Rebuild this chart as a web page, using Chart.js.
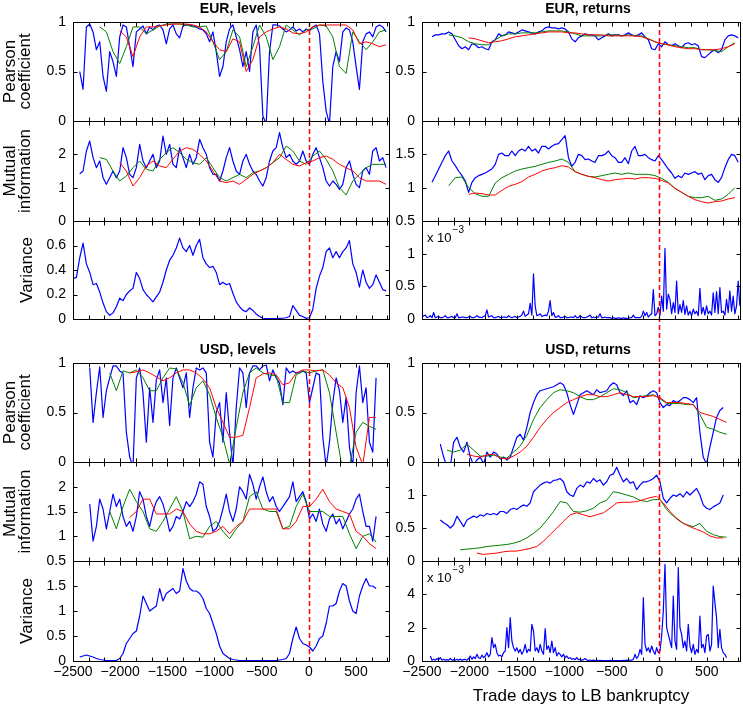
<!DOCTYPE html>
<html>
<head>
<meta charset="utf-8">
<script src="https://cdn.jsdelivr.net/npm/chart.js@4.4.1/dist/chart.umd.min.js"></script>
<style>
  body { margin: 0; background: #fff; }
  #wrap { position: relative; width: 743px; height: 711px; }
  #wrap canvas { position: absolute; left: 0; top: 0; }
</style>
</head>
<body>
<div id="wrap"></div>
<script>
// ---- data: values (x = trade days to LB bankruptcy) ----

// EUR, levels
const eurLevPearsonBlue = [0.50,0.32,0.95,0.98,0.90,0.72,0.80,0.45,0.30,0.70,0.60,0.45,0.85,0.97,0.95,0.75,0.55,0.90,0.93,0.96,0.88,0.95,0.92,0.96,0.97,0.92,0.78,0.93,0.97,0.88,0.84,0.96,0.97,0.97,0.96,0.95,0.93,0.92,0.88,0.80,0.90,0.70,0.45,0.55,0.80,0.93,0.97,0.85,0.72,0.55,0.70,0.50,0.90,0.97,0.75,0.05,-0.03,0.70,0.97,0.97,0.96,0.93,0.90,0.92,0.95,0.91,0.93,0.90,0.93,0.91,0.95,0.97,0.88,0.40,0.10,-0.03,0.55,0.70,0.60,0.90,0.94,0.92,0.80,0.55,0.32,0.80,0.88,0.90,0.85,0.95,0.97,0.95,0.90];
const eurLevPearsonGreen = [0.95,0.90,0.70,0.58,0.75,0.95,0.95,0.88,0.92,0.96,0.98,0.98,0.98,0.97,0.95,0.95,0.96,0.80,0.62,0.70,0.92,0.85,0.55,0.75,0.97,0.85,0.62,0.75,0.97,0.92,0.87,0.92,0.93,0.97,0.96,0.85,0.55,0.48,0.90,0.80,0.72,0.80,0.90,0.92];
const eurLevPearsonRed = [0.91,0.85,0.65,0.85,0.95,0.95,0.96,0.97,0.98,0.98,0.98,0.97,0.95,0.90,0.80,0.72,0.70,0.83,0.80,0.50,0.62,0.85,0.90,0.93,0.95,0.93,0.89,0.88,0.90,0.95,0.97,0.97,0.97,0.97,0.97,0.92,0.78,0.80,0.78,0.75,0.77];
const eurLevMutualBlue = [1.42,1.50,2.10,2.40,1.90,1.60,1.80,1.30,1.10,1.30,1.50,1.30,1.50,2.20,1.90,1.40,1.30,1.60,2.30,1.80,1.60,1.80,2.00,1.60,1.80,2.55,2.00,2.30,1.70,1.60,2.20,1.90,1.60,2.00,1.70,1.90,2.45,2.20,2.00,1.60,1.40,1.40,1.20,1.50,1.90,2.20,1.80,1.50,1.40,1.80,2.00,1.70,1.50,1.40,1.20,1.05,1.30,1.80,2.10,2.20,2.65,2.20,1.90,2.00,1.80,1.70,1.80,2.10,1.80,1.70,2.00,2.20,1.90,1.60,1.20,1.05,1.20,1.10,0.95,1.10,1.60,1.80,1.40,1.10,1.00,1.50,1.60,1.40,2.10,2.20,1.80,1.90,1.60];
const eurLevMutualGreen = [1.90,1.85,1.50,1.20,1.35,1.60,1.80,1.55,1.50,1.85,2.05,2.20,2.05,1.85,1.75,1.70,1.90,1.60,1.30,1.20,1.30,1.40,1.30,1.45,1.50,1.60,1.75,1.90,2.25,2.10,1.80,1.70,1.95,2.10,1.85,1.50,1.00,0.78,1.20,1.40,1.60,1.70,1.70,1.70];
const eurLevMutualRed = [1.75,1.50,1.05,1.30,1.65,1.80,1.65,1.60,1.85,2.10,2.20,2.15,2.00,1.80,1.50,1.20,1.15,1.20,1.10,1.25,1.40,1.50,1.60,1.75,2.00,1.85,1.70,1.65,1.75,1.80,1.90,1.95,1.85,1.70,1.60,1.50,1.30,1.20,1.20,1.20,1.10];
const eurLevVarBlue = [0.33,0.34,0.50,0.62,0.45,0.38,0.28,0.29,0.22,0.13,0.06,0.03,0.05,0.10,0.17,0.15,0.20,0.23,0.25,0.38,0.33,0.24,0.20,0.17,0.14,0.18,0.22,0.30,0.40,0.48,0.52,0.58,0.66,0.58,0.55,0.60,0.52,0.60,0.65,0.50,0.45,0.42,0.43,0.38,0.28,0.30,0.28,0.29,0.21,0.14,0.10,0.07,0.06,0.09,0.07,0.04,0.02,0.006,0.004,0.004,0.003,0.004,0.005,0.006,0.01,0.02,0.11,0.07,0.03,0.02,0.005,0.01,0.08,0.25,0.35,0.42,0.55,0.58,0.50,0.55,0.50,0.55,0.58,0.64,0.45,0.38,0.26,0.40,0.30,0.25,0.28,0.36,0.30,0.24,0.23];

// EUR, returns
const eurRetPearsonBlue = [0.85,0.87,0.87,0.88,0.88,0.90,0.88,0.82,0.76,0.73,0.75,0.72,0.78,0.77,0.74,0.75,0.73,0.72,0.80,0.82,0.88,0.86,0.87,0.90,0.89,0.88,0.90,0.92,0.91,0.90,0.89,0.88,0.90,0.91,0.94,0.95,0.94,0.94,0.93,0.94,0.93,0.90,0.83,0.80,0.84,0.86,0.88,0.87,0.87,0.86,0.82,0.84,0.86,0.88,0.86,0.87,0.87,0.86,0.87,0.89,0.87,0.86,0.87,0.89,0.85,0.82,0.73,0.72,0.78,0.75,0.80,0.77,0.76,0.78,0.76,0.74,0.78,0.79,0.77,0.78,0.76,0.65,0.64,0.67,0.70,0.72,0.69,0.72,0.82,0.86,0.87,0.86,0.84];
const eurRetPearsonGreen = [0.87,0.86,0.84,0.80,0.78,0.77,0.77,0.82,0.86,0.88,0.88,0.89,0.89,0.89,0.90,0.91,0.91,0.91,0.90,0.88,0.86,0.86,0.86,0.86,0.87,0.87,0.86,0.87,0.86,0.86,0.83,0.80,0.78,0.77,0.76,0.75,0.74,0.74,0.72,0.72,0.71,0.70,0.75,0.79];
const eurRetPearsonRed = [0.84,0.83,0.81,0.79,0.80,0.81,0.83,0.85,0.86,0.87,0.88,0.89,0.90,0.90,0.90,0.89,0.89,0.88,0.87,0.87,0.87,0.86,0.86,0.86,0.86,0.86,0.85,0.83,0.80,0.78,0.77,0.75,0.74,0.73,0.73,0.72,0.72,0.72,0.73,0.75,0.78];
const eurRetMutualBlue = [1.08,1.18,1.28,1.38,1.48,1.55,1.40,1.33,1.25,1.18,1.10,0.93,1.08,1.15,1.18,1.20,1.22,1.25,1.28,1.35,1.50,1.52,1.48,1.48,1.55,1.48,1.55,1.58,1.55,1.62,1.55,1.58,1.52,1.62,1.62,1.58,1.62,1.65,1.66,1.72,1.78,1.45,1.32,1.38,1.50,1.48,1.42,1.43,1.40,1.38,1.48,1.48,1.50,1.55,1.48,1.45,1.38,1.38,1.45,1.36,1.55,1.62,1.48,1.48,1.50,1.45,1.42,1.40,1.48,1.42,1.35,1.28,1.22,1.14,1.18,1.15,1.22,1.20,1.22,1.24,1.20,1.22,1.12,1.18,1.20,1.12,1.08,1.15,1.30,1.42,1.50,1.48,1.38];
const eurRetMutualGreen = [1.03,1.15,1.16,1.00,0.91,0.87,0.87,1.07,1.15,1.20,1.25,1.28,1.30,1.32,1.35,1.38,1.40,1.43,1.38,1.24,1.20,1.17,1.16,1.18,1.20,1.22,1.20,1.22,1.20,1.20,1.20,1.18,1.14,1.08,0.99,0.93,0.87,0.85,0.85,0.87,0.81,0.83,0.90,1.00];
const eurRetMutualRed = [0.90,0.92,0.91,0.89,0.89,0.96,1.02,1.05,1.09,1.16,1.20,1.25,1.28,1.30,1.33,1.31,1.24,1.20,1.17,1.15,1.12,1.10,1.12,1.13,1.14,1.13,1.15,1.15,1.14,1.11,1.07,0.99,0.93,0.87,0.82,0.79,0.77,0.79,0.80,0.83,0.85];
// variance of returns, in units of 1e-3
const eurRetVarBlue = [0.03,0.05,0.06,0.02,0.03,0.05,0.02,0.10,0.02,0.03,0.04,0.02,0.02,0.03,0.05,0.02,0.02,0.03,0.04,0.02,0.02,0.08,0.02,0.02,0.03,0.03,0.02,0.02,0.03,0.04,0.02,0.02,0.03,0.05,0.03,0.03,0.02,0.04,0.05,0.14,0.03,0.04,0.05,0.02,0.02,0.03,0.04,0.02,0.02,0.03,0.03,0.02,0.05,0.03,0.02,0.03,0.04,0.02,0.03,0.04,0.06,0.12,0.04,0.06,0.08,0.24,0.06,0.69,0.20,0.05,0.06,0.08,0.04,0.05,0.06,0.05,0.12,0.28,0.05,0.10,0.03,0.03,0.05,0.02,0.02,0.03,0.04,0.02,0.02,0.03,0.03,0.02,0.05,0.02,0.02,0.05,0.03,0.02,0.02,0.03,0.04,0.06,0.02,0.03,0.02,0.03,0.03,0.08,0.02,0.02,0.03,0.02,0.02,0.02,0.01,0.02,0.01,0.01,0.02,0.01,0.01,0.02,0.01,0.01,0.01,0.02,0.02,0.06,0.02,0.02,0.02,0.02,0.04,0.12,0.05,0.10,0.03,0.06,0.08,0.45,0.05,0.08,0.18,0.05,0.35,0.12,1.08,0.15,0.38,0.30,0.08,0.25,0.10,0.58,0.08,0.22,0.10,0.28,0.07,0.20,0.06,0.12,0.05,0.15,0.08,0.12,0.05,0.47,0.08,0.18,0.06,0.20,0.08,0.12,0.06,0.40,0.10,0.42,0.08,0.48,0.10,0.12,0.06,0.30,0.10,0.43,0.12,0.35,0.08,0.20,0.58,0.20];

// USD, levels
const usdLevPearsonBlue = [0.95,0.40,0.70,0.96,0.45,0.72,0.85,0.97,0.97,0.92,0.90,0.30,0.05,-0.05,0.85,0.95,0.70,0.20,0.75,0.40,0.83,0.93,0.60,0.85,0.37,0.85,0.95,0.85,0.75,0.90,0.45,0.75,0.95,0.93,0.95,0.90,0.20,0.05,0.50,0.60,0.20,0.70,0.30,-0.05,0.55,0.95,0.90,0.55,0.90,0.97,0.97,0.93,0.97,0.98,0.82,0.93,0.85,0.80,0.58,0.95,0.90,0.92,0.90,0.90,0.92,0.90,0.60,0.75,0.90,0.88,0.25,-0.05,0.20,0.60,0.85,0.72,0.40,0.65,0.15,-0.05,0.70,0.97,0.60,0.75,0.20,0.10,0.85];
const usdLevPearsonGreen = [0.90,0.72,0.92,0.90,0.93,0.85,0.72,0.72,0.85,0.95,0.94,0.80,0.57,0.75,0.82,0.68,0.45,0.25,-0.02,0.35,0.70,0.90,0.95,0.90,0.88,0.87,0.60,0.60,0.88,0.92,0.90,0.92,0.93,0.70,0.30,-0.10,-0.05,0.30,0.40,0.36,0.33];
const usdLevPearsonRed = [0.90,0.91,0.93,0.90,0.86,0.82,0.85,0.90,0.93,0.93,0.90,0.84,0.75,0.55,0.40,0.25,0.25,0.27,0.55,0.85,0.89,0.90,0.88,0.78,0.80,0.90,0.93,0.93,0.92,0.93,0.88,0.80,0.75,0.55,0.15,-0.03,0.45,0.45];
const usdLevMutualBlue = [1.65,0.90,1.20,1.75,1.55,1.15,1.50,1.85,1.60,1.75,1.40,1.20,1.30,1.10,1.40,1.90,1.75,1.40,1.20,1.50,1.70,1.80,1.65,1.40,1.10,1.20,1.40,1.35,1.50,1.70,1.60,1.70,1.85,2.10,2.05,1.60,1.40,1.10,1.15,1.30,1.55,1.85,1.50,1.30,1.55,2.00,1.90,1.75,2.25,2.05,1.75,2.00,2.20,1.90,1.70,1.80,1.60,1.50,1.60,1.70,1.80,2.10,1.70,1.80,1.90,1.70,1.35,1.45,1.30,1.55,1.25,1.10,1.35,1.45,1.25,1.35,1.15,1.30,1.45,1.55,1.75,1.85,1.50,1.20,1.20,0.90,1.40];
const usdLevMutualGreen = [1.50,1.15,1.60,1.95,1.70,1.50,1.15,1.10,1.30,1.55,1.80,1.50,0.95,1.00,0.98,1.20,1.30,1.10,0.95,1.15,1.30,1.80,1.90,1.55,1.50,1.50,1.15,1.20,1.60,1.85,1.50,1.50,1.50,1.40,1.40,1.40,1.05,0.75,1.00,1.05,0.88];
const usdLevMutualRed = [1.38,1.50,1.75,1.75,1.45,1.45,1.45,1.55,1.50,1.25,1.10,1.05,1.05,1.10,1.20,1.05,1.20,1.30,1.55,1.55,1.55,1.55,1.55,1.15,1.15,1.30,1.60,1.60,1.75,1.95,1.70,1.55,1.50,1.45,1.10,1.00,0.85,0.75];
const usdLevVarBlue = [0.08,0.10,0.12,0.10,0.08,0.05,0.03,0.02,0.01,0.01,0.01,0.01,0.05,0.15,0.35,0.45,0.55,0.60,0.90,1.30,1.15,1.00,1.05,1.10,1.45,1.20,1.35,1.40,1.45,1.35,1.40,1.85,1.60,1.45,1.40,1.40,1.35,1.25,1.05,0.95,0.75,0.55,0.30,0.15,0.10,0.05,0.03,0.02,0.01,0.01,0.01,0.01,0.01,0.01,0.01,0.01,0.01,0.01,0.01,0.01,0.02,0.03,0.05,0.15,0.45,0.68,0.45,0.35,0.32,0.28,0.20,0.30,0.45,0.50,0.75,1.10,1.10,1.15,1.40,1.55,1.50,1.20,1.00,0.95,1.30,1.50,1.65,1.50,1.50,1.45];

// USD, returns
const usdRetPearsonBlue = [0.18,0.05,-0.05,-0.05,0.20,0.25,0.15,0.10,0.20,0.05,-0.03,0.02,0.05,-0.02,0.10,0.05,0.10,0.08,0.03,0.05,0.02,0.05,0.15,0.25,0.28,0.22,0.35,0.50,0.60,0.68,0.72,0.73,0.74,0.75,0.76,0.78,0.80,0.78,0.70,0.58,0.48,0.58,0.68,0.70,0.72,0.70,0.68,0.73,0.70,0.71,0.72,0.77,0.80,0.78,0.70,0.67,0.72,0.60,0.62,0.58,0.67,0.65,0.67,0.70,0.72,0.70,0.60,0.55,0.58,0.57,0.62,0.60,0.62,0.65,0.65,0.63,0.60,0.65,0.30,0.05,-0.02,0.15,0.30,0.45,0.52,0.55];
const usdRetPearsonGreen = [0.12,0.10,0.12,0.18,0.12,0.06,0.06,0.07,0.05,0.04,0.10,0.16,0.27,0.43,0.55,0.63,0.70,0.73,0.72,0.70,0.66,0.63,0.63,0.66,0.70,0.74,0.73,0.70,0.65,0.66,0.67,0.68,0.64,0.59,0.59,0.59,0.58,0.58,0.48,0.35,0.33,0.30,0.28];
const usdRetPearsonRed = [0.08,0.06,0.05,0.07,0.08,0.04,0.03,0.06,0.10,0.16,0.25,0.35,0.43,0.50,0.55,0.60,0.63,0.66,0.68,0.68,0.66,0.66,0.68,0.70,0.68,0.66,0.66,0.66,0.67,0.65,0.60,0.60,0.60,0.59,0.58,0.50,0.48,0.46,0.43,0.40];
const usdRetMutualBlue = [0.62,0.58,0.55,0.50,0.55,0.68,0.60,0.52,0.62,0.65,0.68,0.66,0.70,0.68,0.72,0.70,0.72,0.70,0.75,0.75,0.72,0.78,0.80,0.78,0.82,0.85,0.83,0.88,1.05,1.10,1.15,1.18,1.20,1.18,1.22,1.23,1.25,1.20,1.05,1.00,0.98,1.10,1.15,1.12,1.20,1.18,1.25,1.20,1.23,1.15,1.20,1.30,1.32,1.42,1.30,1.20,1.25,1.18,1.20,1.08,1.15,1.20,1.20,1.22,1.25,1.30,1.20,0.95,0.88,0.95,1.00,0.98,1.02,0.97,1.05,1.00,1.05,1.10,1.00,0.85,0.80,0.78,0.82,0.85,0.88,1.00];
const usdRetMutualGreen = [0.17,0.18,0.19,0.20,0.22,0.23,0.24,0.25,0.27,0.30,0.35,0.42,0.50,0.62,0.75,0.90,0.88,0.75,0.74,0.76,0.80,0.88,0.92,1.05,1.03,1.00,0.97,0.92,0.90,0.93,0.93,0.78,0.68,0.60,0.55,0.52,0.57,0.45,0.40,0.37,0.36];
const usdRetMutualRed = [0.12,0.10,0.11,0.12,0.14,0.15,0.15,0.17,0.19,0.22,0.30,0.40,0.50,0.60,0.70,0.73,0.70,0.67,0.70,0.73,0.80,0.88,0.89,0.89,0.90,0.93,0.96,0.98,0.88,0.75,0.65,0.57,0.52,0.48,0.44,0.38,0.35,0.35];
// variance of returns, in units of 1e-3
const usdRetVarBlue = [0.30,0.05,0.10,0.05,0.15,0.08,0.20,0.05,0.10,0.05,0.08,0.05,0.15,0.05,0.08,0.05,0.10,0.04,0.12,0.05,0.08,0.10,0.05,0.15,0.30,0.10,0.25,0.15,0.40,0.20,0.15,0.35,0.20,0.30,0.50,0.25,0.40,1.40,0.80,1.00,0.50,0.30,0.35,0.25,0.50,0.60,2.00,0.80,2.60,1.20,0.80,0.60,0.80,0.50,0.70,0.40,0.60,1.00,0.50,0.70,0.60,2.20,1.80,0.60,0.80,0.50,1.00,0.60,0.40,1.95,0.70,0.90,0.50,1.20,0.50,0.80,0.30,0.50,0.40,0.25,0.40,0.20,0.30,0.15,0.20,0.10,0.15,0.08,0.20,0.08,0.10,0.05,0.08,0.15,0.05,0.04,0.06,0.03,0.05,0.03,0.04,0.03,0.04,0.02,0.03,0.02,0.03,0.02,0.04,0.02,0.03,0.02,0.03,0.02,0.03,0.02,0.04,0.03,0.05,0.03,0.06,0.04,0.10,0.40,0.15,0.30,0.70,0.40,3.80,1.00,0.60,0.80,0.50,0.90,0.60,0.40,0.80,0.50,0.60,1.50,3.00,5.80,2.00,1.60,1.20,0.80,3.90,1.20,0.70,5.60,2.00,1.60,0.80,1.20,0.60,2.20,0.90,0.50,1.00,0.40,0.70,0.50,2.70,0.80,1.00,0.50,1.50,1.60,0.60,1.00,4.50,3.50,2.60,0.80,1.90,0.80,0.50,0.40,0.20];

// sampling of the series above (days between samples)
const LEFT_STEP = 35.3;
const RIGHT_STEP = 35.06;

// x axis
const X_MIN = -2500, X_MAX = 850;
const xTickLabels = [-2500, -2000, -1500, -1000, -500, 0, 500];
const xMinorTicks = [];
for (let k = 0; k <= 20; k++) xMinorTicks.push(-2500 + k * 500 / 3);

// ---- layout & style ----
const PAGE_W = 743, PAGE_H = 711;
const FONT = '"Liberation Sans", Arial, Helvetica, sans-serif';
const BLUE = '#0000ff', GREEN = '#007f00', RED = '#ff0000';
const TICK_LEN = 4;
const COLS = [{left: 73, right: 389, axisW: 73}, {left: 422, right: 740, axisW: 30}];
const ROWS = [
  {top: 22, bottom: 121}, {top: 121, bottom: 221}, {top: 221, bottom: 319},
  {top: 363, bottom: 462}, {top: 462, bottom: 561}, {top: 561, bottom: 661}
];
const GAP = ROWS[3].top - ROWS[2].bottom;

const panels = [
  {col: 0, row: 0, title: 'EUR, levels', yLabel: ['Pearson', 'coefficient'], yMin: 0, yMax: 1, yTicks: [0, 0.5, 1],
   series: [[eurLevPearsonBlue, -2428.6, LEFT_STEP, BLUE], [eurLevPearsonGreen, -2216.8, 2 * LEFT_STEP, GREEN], [eurLevPearsonRed, -2005, 2 * LEFT_STEP, RED]]},
  {col: 0, row: 1, yLabel: ['Mutual', 'information'], yMin: 0, yMax: 3, yTicks: [0, 1, 2],
   series: [[eurLevMutualBlue, -2428.6, LEFT_STEP, BLUE], [eurLevMutualGreen, -2216.8, 2 * LEFT_STEP, GREEN], [eurLevMutualRed, -2005, 2 * LEFT_STEP, RED]]},
  {col: 0, row: 2, yLabel: 'Variance', yMin: 0, yMax: 0.8, yTicks: [0, 0.2, 0.4, 0.6], dashExtend: GAP,
   series: [[eurLevVarBlue, -2499.2, LEFT_STEP, BLUE]]},
  {col: 1, row: 0, title: 'EUR, returns', yMin: 0, yMax: 1, yTicks: [0, 0.5, 1],
   series: [[eurRetPearsonBlue, -2394.6, RIGHT_STEP, BLUE], [eurRetPearsonGreen, -2219.3, 2 * RIGHT_STEP, GREEN], [eurRetPearsonRed, -2009, 2 * RIGHT_STEP, RED]]},
  {col: 1, row: 1, yMin: 0.5, yMax: 2, yTicks: [0.5, 1, 1.5],
   series: [[eurRetMutualBlue, -2394.6, RIGHT_STEP, BLUE], [eurRetMutualGreen, -2219.3, 2 * RIGHT_STEP, GREEN], [eurRetMutualRed, -2009, 2 * RIGHT_STEP, RED]]},
  {col: 1, row: 2, yMin: 0, yMax: 1.5, yTicks: [0, 0.5, 1], exponent: true, dashExtend: GAP,
   series: [[eurRetVarBlue, -2499.8, RIGHT_STEP / 2, BLUE]]},
  {col: 0, row: 3, title: 'USD, levels', yLabel: ['Pearson', 'coefficient'], yMin: 0, yMax: 1, yTicks: [0, 0.5, 1],
   series: [[usdLevPearsonBlue, -2322.7, LEFT_STEP, BLUE], [usdLevPearsonGreen, -2110.9, 2 * LEFT_STEP, GREEN], [usdLevPearsonRed, -1899.1, 2 * LEFT_STEP, RED]]},
  {col: 0, row: 4, yLabel: ['Mutual', 'information'], yMin: 0.5, yMax: 2.5, yTicks: [0.5, 1, 1.5, 2],
   series: [[usdLevMutualBlue, -2322.7, LEFT_STEP, BLUE], [usdLevMutualGreen, -2110.9, 2 * LEFT_STEP, GREEN], [usdLevMutualRed, -1899.1, 2 * LEFT_STEP, RED]]},
  {col: 0, row: 5, yLabel: 'Variance', yMin: 0, yMax: 2, yTicks: [0, 0.5, 1, 1.5],
   series: [[usdLevVarBlue, -2428.6, LEFT_STEP, BLUE]]},
  {col: 1, row: 3, title: 'USD, returns', yMin: 0, yMax: 1, yTicks: [0, 0.5, 1],
   series: [[usdRetPearsonBlue, -2307, RIGHT_STEP, BLUE], [usdRetPearsonGreen, -2236.8, 2 * RIGHT_STEP, GREEN], [usdRetPearsonRed, -2026.5, 2 * RIGHT_STEP, RED]]},
  {col: 1, row: 4, yMin: 0, yMax: 1.5, yTicks: [0, 0.5, 1],
   series: [[usdRetMutualBlue, -2307, RIGHT_STEP, BLUE], [usdRetMutualGreen, -2096.6, 2 * RIGHT_STEP, GREEN], [usdRetMutualRed, -1921.3, 2 * RIGHT_STEP, RED]]},
  {col: 1, row: 5, yMin: 0, yMax: 6, yTicks: [0, 2, 4], exponent: true, xTitle: 'Trade days to LB bankruptcy',
   series: [[usdRetVarBlue, -2412.1, RIGHT_STEP / 2, BLUE]]}
];

Chart.defaults.font.family = FONT;
Chart.defaults.color = '#000';

function toPoints(vals, start, step) {
  return vals.map((v, i) => ({x: start + i * step, y: v}));
}

function fmtTick(v) {
  return v < 0 ? '\u2212' + (-v) : String(v);
}

// box, inward ticks, zero-day line, panel title and exponent note
function framePlugin(p) {
  return {
    id: 'frame',
    afterDatasetsDraw(chart) {
      const {ctx, chartArea: a} = chart;
      const x = chart.scales.x, y = chart.scales.y;
      ctx.save();
      const zx = Math.round(x.getPixelForValue(0)) + 0.5;
      ctx.strokeStyle = RED;
      ctx.lineWidth = 1.5;
      ctx.setLineDash([5, 3]);
      ctx.beginPath();
      ctx.moveTo(zx, a.top);
      ctx.lineTo(zx, a.bottom + (p.dashExtend || 0));
      ctx.stroke();
      ctx.setLineDash([]);

      const l = a.left + 0.5, r = a.right + 0.5, t = a.top + 0.5, b = a.bottom + 0.5;
      ctx.strokeStyle = '#000';
      ctx.lineWidth = 1;
      ctx.strokeRect(l, t, r - l, b - t);
      ctx.beginPath();
      xMinorTicks.forEach(v => {
        const px = Math.round(x.getPixelForValue(v)) + 0.5;
        ctx.moveTo(px, t); ctx.lineTo(px, t + TICK_LEN);
        ctx.moveTo(px, b); ctx.lineTo(px, b - TICK_LEN);
      });
      p.yTicks.forEach(v => {
        const py = Math.round(y.getPixelForValue(v)) + 0.5;
        ctx.moveTo(l, py); ctx.lineTo(l + TICK_LEN, py);
        ctx.moveTo(r, py); ctx.lineTo(r - TICK_LEN, py);
      });
      ctx.stroke();

      ctx.fillStyle = '#000';
      if (p.title) {
        ctx.font = 'bold 14px ' + FONT;
        ctx.textAlign = 'center';
        ctx.textBaseline = 'middle';
        ctx.fillText(p.title, (a.left + a.right) / 2 + 7, a.top - 13);
      }
      if (p.exponent) {
        ctx.font = '13px ' + FONT;
        ctx.textAlign = 'left';
        ctx.textBaseline = 'alphabetic';
        const tx = a.left + 5, ty = a.top + 21;
        ctx.fillText('x 10', tx, ty);
        const w = ctx.measureText('x 10').width;
        ctx.font = '10px ' + FONT;
        ctx.fillText('\u22123', tx + w + 1, ty - 9);
      }
      ctx.restore();
    }
  };
}

function makePanel(p) {
  const canvas = document.createElement('canvas');
  canvas.width = PAGE_W;
  canvas.height = PAGE_H;
  document.getElementById('wrap').appendChild(canvas);

  const col = COLS[p.col], row = ROWS[p.row];
  const bottomRow = p.row === ROWS.length - 1;
  const xH = bottomRow ? PAGE_H - row.bottom : 0;

  // reversed so that blue is drawn first and red ends on top
  const datasets = p.series.slice().reverse().map(([vals, start, step, color]) => ({
    data: toPoints(vals, start, step),
    borderColor: color,
    borderWidth: color === BLUE ? 1.2 : 1,
    borderJoinStyle: 'round',
    pointRadius: 0,
    fill: false,
    tension: 0
  }));

  return new Chart(canvas, {
    type: 'line',
    data: {datasets},
    options: {
      responsive: false,
      animation: false,
      events: [],
      layout: {
        padding: {left: col.left - col.axisW, right: PAGE_W - col.right, top: row.top, bottom: PAGE_H - row.bottom - xH}
      },
      plugins: {legend: {display: false}, tooltip: {enabled: false}},
      scales: {
        x: {
          type: 'linear',
          min: X_MIN,
          max: X_MAX,
          grid: {display: false, drawTicks: false},
          border: {display: false},
          ticks: {display: bottomRow, autoSkip: false, maxRotation: 0, padding: 3, font: {size: 14}, callback: fmtTick},
          afterBuildTicks: s => { s.ticks = xTickLabels.map(v => ({value: v})); },
          afterFit: s => { s.height = xH; s.paddingLeft = 0; s.paddingRight = 0; },
          title: {display: !!p.xTitle, text: p.xTitle || '', font: {size: 17}, padding: {top: 0, bottom: 4}}
        },
        y: {
          type: 'linear',
          min: p.yMin,
          max: p.yMax,
          grid: {display: false, drawTicks: false},
          border: {display: false},
          ticks: {padding: 7, font: {size: 14}, callback: fmtTick},
          afterBuildTicks: s => { s.ticks = p.yTicks.map(v => ({value: v})); },
          afterFit: s => { s.width = col.axisW; s.paddingTop = 0; s.paddingBottom = 0; },
          title: {
            display: !!p.yLabel,
            text: p.yLabel || '',
            font: {size: 17, lineHeight: 0.88},
            padding: {top: Array.isArray(p.yLabel) ? 3 : 20, bottom: 0}
          }
        }
      }
    },
    plugins: [framePlugin(p)]
  });
}

panels.forEach(makePanel);
</script>
</body>
</html>
